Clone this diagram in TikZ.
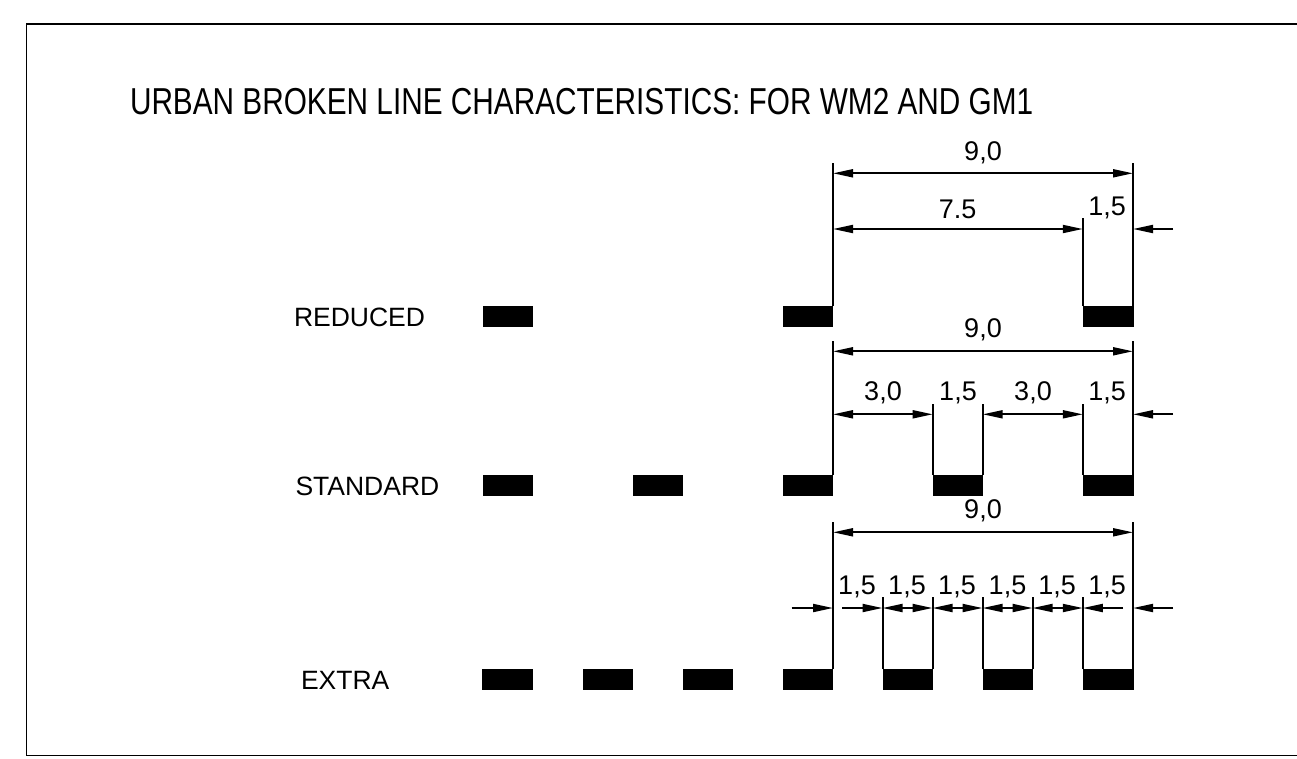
\documentclass[tikz,border=0pt]{standalone}
\usepackage{fontspec}
\setmainfont{Liberation Sans}
\newfontfamily\titlefont[FakeStretch=0.794]{Liberation Sans}
\usetikzlibrary{arrows.meta}
\tikzset{
	dimtext/.style={anchor=base, inner sep=0pt, font=\fontsize{27}{30}\selectfont},
	rowtext/.style={anchor=base west, inner sep=0pt, font=\fontsize{26.5}{30}\selectfont},
	linemark/.style={fill=black, draw=none},
	dimline/.style={line width=1.9pt, <->},
	oneway/.style={line width=1.9pt, ->},
}
\begin{document}
\begin{tikzpicture}[x=1pt,y=-1pt,>={Triangle[length=20pt,width=8pt]}, line width=2pt]
	\useasboundingbox (0,0) rectangle (1297,758);
	\def\dw{50.5} \def\dh{21}
	\def\yr{306} \def\ys{475} \def\yx{669}
	% frame, open on the right
	\draw[line width=1.9pt] (1297,24)--(26.5,24)--(26.5,755.5)--(1297,755.5);
	\node[anchor=base west, inner sep=0pt, font=\titlefont\fontsize{37.5}{40}\selectfont] (title) at (129,114) {URBAN BROKEN LINE CHARACTERISTICS: FOR WM2 AND GM1};
	\node[rowtext] (reduced) at (293,326.7) {REDUCED};
	\node[rowtext] (standard) at (294.5,495.7) {STANDARD};
	\node[rowtext] (extra) at (300,689) {EXTRA};
	% dashes
	\foreach \x in {482.5,782.5,1083} \fill[linemark] (\x,\yr) rectangle ++(\dw,\dh);
	\foreach \x in {482.5,632.5,782.5,932.5,1083} \fill[linemark] (\x,\ys) rectangle ++(\dw,\dh);
	\foreach \x in {482,582.5,682.5,782.5,882.5,982.5,1083} \fill[linemark] (\x,\yx) rectangle ++(\dw,\dh);
	% extension lines
	\draw (833,\yr)--(833,163) (1133,\yr)--(1133,163) (1082.8,\yr)--(1082.8,218);
	\draw (833,\ys)--(833,340.7) (1133,\ys)--(1133,340.7);
	\foreach \x in {932.7,982.7,1082.8} \draw (\x,\ys)--(\x,404);
	\draw (833,\yx)--(833,521.7) (1133,\yx)--(1133,521.7);
	\foreach \x in {882.5,932.5,982.5,1032.5,1082.8} \draw (\x,\yx)--(\x,597.3);
	% reduced
	\coordinate (ra) at (833,173.3); \coordinate (rb) at (1133,173.3);
	\coordinate (rc) at (833,229); \coordinate (rd) at (1082.8,229);
	\coordinate (re) at (1133,229); \coordinate (rf) at (1173,229);
	\draw[dimline] (ra)--(rb);
	\draw[dimline] (rc)--(rd);
	\draw[oneway] (rf)--(re);
	\node[dimtext] (rtotal) at (983,160.7) {9,0};
	\node[dimtext] (rgap) at (957.7,218.3) {7.5};
	\node[dimtext] (rline) at (1107,215.7) {1,5};
	% standard
	\coordinate (sa) at (833,351.3); \coordinate (sb) at (1133,351.3);
	\foreach \n/\x in {c/833,d/932.7,e/982.7,f/1082.8,g/1133,h/1173}
		\coordinate (s\n) at (\x,414.3);
	\draw[dimline] (sa)--(sb);
	\draw[dimline] (sc)--(sd);
	\draw[dimline] (se)--(sf);
	\draw[oneway] (sh)--(sg);
	\node[dimtext] (stotal) at (983,337) {9,0};
	\foreach \n/\x/\t in {a/883/{3,0},b/958/{1,5},c/1033/{3,0},d/1107/{1,5}}
		\node[dimtext] (sl\n) at (\x,400) {\t};
	% extra
	\coordinate (xa) at (833,532.3); \coordinate (xb) at (1133,532.3);
	\foreach \n/\x in {c/791.7,d/833,e/842,f/882.5,g/932.5,h/982.5,i/1032.5,j/1082.8,k/1123,l/1133,m/1173}
		\coordinate (x\n) at (\x,608);
	\draw[dimline] (xa)--(xb);
	\draw[oneway] (xc)--(xd);
	\draw[oneway] (xe)--(xf);
	\foreach \p/\q in {f/g,g/h,h/i,i/j} \draw[dimline] (x\p)--(x\q);
	\draw[oneway] (xk)--(xj);
	\draw[oneway] (xm)--(xl);
	\node[dimtext] (xtotal) at (983,518) {9,0};
	\foreach \n/\x in {a/857,b/907,c/957,d/1007.5,e/1057,f/1107}
		\node[dimtext] (xl\n) at (\x,594) {1,5};
\end{tikzpicture}
\end{document}
